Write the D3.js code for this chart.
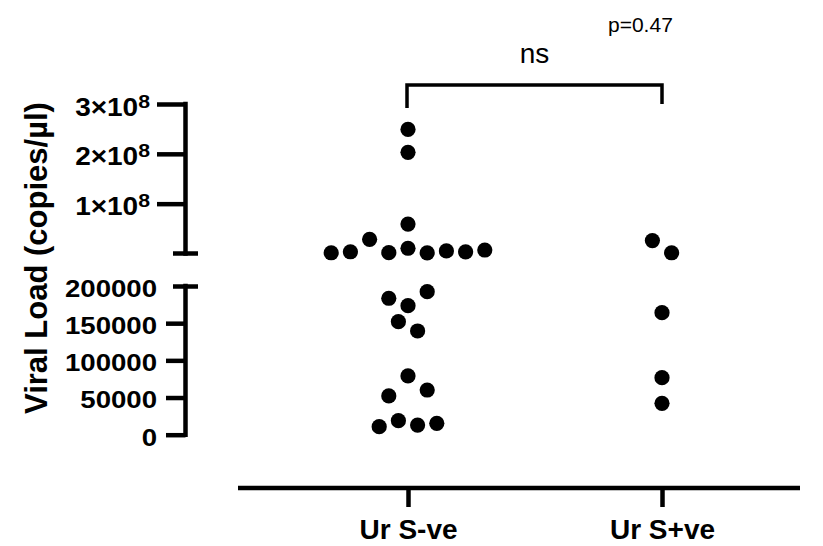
<!DOCTYPE html>
<html>
<head>
<meta charset="utf-8">
<script src="https://cdn.jsdelivr.net/npm/d3@7"></script>
<style>
  body { margin: 0; background: #fff; }
  svg { display: block; font-family: "Liberation Sans", Arial, sans-serif; }
</style>
</head>
<body>
<div id="chart"></div>
<script>
// data (order inside one row of dots = left to right)
const groups = ["Ur S-ve", "Ur S+ve"];
const urSNeg = [2.49e8, 2.03e8, 5.9e7,
  1.5e6, 3.5e6, 2.85e7, 1.7e6, 1.05e7, 1.4e6, 5.1e6, 3.4e6, 7e6,
  183500, 173500, 192300, 152000, 139500, 79000, 52100, 60100,
  10800, 18800, 13000, 15300];
const urSPos = [2.6e7, 1.5e6, 164100, 76700, 42200];
const upperTicks = [1e8, 2e8, 3e8];
const lowerTicks = [0, 50000, 100000, 150000, 200000];
const yTitle = "Viral Load (copies/µl)";
const sigLabel = "ns";
const pLabel = "p=0.47";

const width = 823, height = 546;
const axisX = 185.5, lineW = 4.5;
const breakValue = 200000;

const svg = d3.select("#chart")
  .append("svg")
  .attr("width", width)
  .attr("height", height);

// two segments of the broken y axis
const yHigh = d3.scaleLinear().domain([0, 3e8]).range([253.5, 104]);
const yLow = d3.scaleLinear().domain([0, breakValue]).range([434.7, 286]);
const yPos = v => v > breakValue ? yHigh(v) : yLow(v);

const x = d3.scalePoint().domain(groups).range([408, 662]);

// upper axis
const upper = svg.append("g")
  .attr("transform", `translate(${axisX},0)`)
  .call(d3.axisLeft(yHigh).tickValues(upperTicks).tickSize(28.5).tickFormat(""));
upper.attr("font-family", null).attr("font-size", null);
upper.select(".domain").remove();
upper.selectAll(".tick line").attr("stroke-width", lineW);
upper.selectAll(".tick text").each(function (d) {
  const exp = Math.floor(Math.log10(d));
  const t = d3.select(this)
    .attr("x", -35.5 / 1.12)
    .attr("dy", "0.44em")
    .attr("transform", "scale(1.12,1)")
    .style("font-size", "25px")
    .style("font-weight", "bold");
  t.append("tspan").text(`${d / Math.pow(10, exp)}×10`);
  t.append("tspan").attr("dy", -8).style("font-size", "19px").text(exp);
});
upper.append("line")
  .attr("y1", yHigh(3e8)).attr("y2", yHigh.range()[0])
  .attr("stroke", "#000").attr("stroke-width", lineW).attr("stroke-linecap", "square");
upper.append("line")
  .attr("x1", -12.5).attr("x2", 12.5)
  .attr("y1", yHigh.range()[0]).attr("y2", yHigh.range()[0])
  .attr("stroke", "#000").attr("stroke-width", lineW);

// lower axis
const lower = svg.append("g")
  .attr("transform", `translate(${axisX},0)`)
  .call(d3.axisLeft(yLow).tickValues(lowerTicks).tickSize(19.5).tickFormat(d3.format("d")));
lower.attr("font-family", null).attr("font-size", null);
lower.select(".domain").remove();
lower.selectAll(".tick line")
  .attr("stroke-width", lineW)
  .filter(d => d === breakValue)
  .attr("x1", -12.5).attr("x2", 12.5);
lower.selectAll(".tick text")
  .attr("x", -28.5 / 1.2)
  .attr("dy", "0.45em")
  .attr("transform", "scale(1.2,1)")
  .style("font-size", "23px")
  .style("font-weight", "bold");
lower.append("line")
  .attr("y1", yLow(breakValue)).attr("y2", yLow(0))
  .attr("stroke", "#000").attr("stroke-width", lineW).attr("stroke-linecap", "square");

// y title
svg.append("text")
  .attr("transform", "translate(47,258) rotate(-90)")
  .attr("text-anchor", "middle")
  .style("font-size", "31px")
  .style("font-weight", "bold")
  .text(yTitle);

// x axis
const xAxis = svg.append("g")
  .attr("transform", "translate(0,488)")
  .call(d3.axisBottom(x).tickSize(19).tickSizeOuter(0));
xAxis.attr("font-family", null).attr("font-size", null);
xAxis.select(".domain").remove();
xAxis.selectAll(".tick line").attr("stroke-width", lineW);
xAxis.selectAll(".tick text")
  .attr("y", 51).attr("dy", 0)
  .style("font-size", "28px")
  .style("font-weight", "bold");
xAxis.append("line")
  .attr("x1", 238).attr("x2", 800)
  .attr("stroke", "#000").attr("stroke-width", lineW);

// rows of dots, GraphPad style: points close in y share a row, centred on the column
const step = 19.2, minDist = 18, rowGap = 13;
function layout(values, cx) {
  const pts = values.map((v, i) => ({ v, i, y: yPos(v) }));
  const sorted = pts.slice().sort((a, b) => a.y - b.y);
  const rows = [];
  sorted.forEach(p => {
    const row = rows[rows.length - 1];
    if (row && p.y - row[row.length - 1].y <= rowGap) row.push(p);
    else rows.push([p]);
  });
  const placed = [];
  rows.forEach(row => {
    row.sort((a, b) => a.i - b.i);
    const n = row.length;
    let slots = d3.range(n).map(k => k - (n - 1) / 2);
    const hits = s => row.some((p, k) =>
      placed.some(q => Math.hypot(cx + s[k] * step - q.x, p.y - q.y) < minDist));
    if (hits(slots)) {
      // move to the other set of slots, leaving the centre free
      slots = n % 2 === 0
        ? d3.range(n).map(k => k < n / 2 ? k - n / 2 : k - n / 2 + 1)
        : slots.map(s => s + 0.5);
    }
    row.forEach((p, k) => { p.x = cx + slots[k] * step; placed.push(p); });
  });
  return pts;
}

const series = [urSNeg, urSPos];
series.forEach((vals, gi) => {
  svg.append("g")
    .selectAll("circle")
    .data(layout(vals, x(groups[gi])))
    .join("circle")
    .attr("cx", d => d.x)
    .attr("cy", d => d.y)
    .attr("r", 7.6)
    .attr("fill", "#000");
});

// significance bracket
const x1 = x(groups[0]) - 1, x2 = x(groups[1]);
svg.append("path")
  .attr("d", `M${x1},108V85H${x2}V104`)
  .attr("fill", "none")
  .attr("stroke", "#000")
  .attr("stroke-width", 3.5);
svg.append("text")
  .attr("x", (x1 + x2) / 2).attr("y", 63)
  .attr("text-anchor", "middle")
  .style("font-size", "28px")
  .text(sigLabel);
svg.append("text")
  .attr("x", 608).attr("y", 32)
  .style("font-size", "21px")
  .text(pLabel);
</script>
</body>
</html>
